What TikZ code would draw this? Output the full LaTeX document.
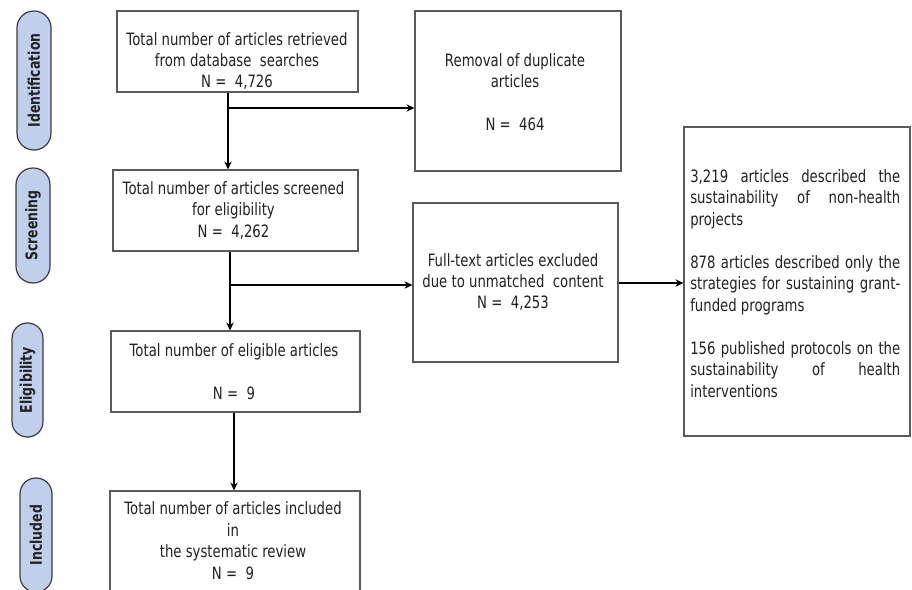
\documentclass[tikz,border=0pt]{standalone}
\usepackage{fontspec}
\setmainfont{DejaVu Sans}[FakeStretch=0.78]
\usetikzlibrary{arrows.meta}
\definecolor{pillfill}{HTML}{BFCFEC}
\definecolor{pillline}{HTML}{3C3C3C}
\definecolor{boxline}{HTML}{5A5A5A}
\definecolor{txtc}{HTML}{222222}
\begin{document}
\begin{tikzpicture}[x=0.75pt,y=-0.75pt,
  font=\fontsize{12.75}{16.1}\selectfont,
  box/.style={draw=boxline, line width=0.8pt, fill=white, inner sep=0pt},
  btxt/.style={text=txtc, align=center, inner sep=0pt},
  pill/.style={draw=pillline, fill=pillfill, line width=0.9pt, rounded corners=#1,
    rotate=90, inner sep=0pt, text=txtc, font=\fontsize{12}{14}\selectfont\bfseries},
  arr/.style={draw=black, line width=1.4pt, -{Stealth[length=6pt,width=5.5pt]}}]
\useasboundingbox (0,0) rectangle (912,589);
\clip (0,0) rectangle (912,589);
\fill[white] (0,0) rectangle (912,589);

% stage pills
\node[pill=12.6pt, minimum width=104.25pt, minimum height=25.5pt] (p1) at (34,80.5) {Identification};
\node[pill=12.6pt, minimum width=86.25pt, minimum height=25.5pt] (p2) at (33,225.5) {Screening};
\node[pill=11.5pt, minimum width=85.5pt, minimum height=23.25pt] (p3) at (27.5,380) {Eligibility};
\node[pill=11.9pt, minimum width=85.5pt, minimum height=24pt] (p4) at (36,535) {Included};

% boxes
\node[box, minimum width=180.75pt, minimum height=60.75pt] (b1) at (237.5,51.5) {};
\node[box, minimum width=154.5pt, minimum height=120pt] (b2) at (518,91) {};
\node[box, minimum width=183.75pt, minimum height=60.75pt] (b3) at (235.5,210.5) {};
\node[box, minimum width=186.75pt, minimum height=60.75pt] (b4) at (235.5,371.5) {};
\node[box, minimum width=153.75pt, minimum height=119.25pt] (b5) at (515.5,282.5) {};
\node[box, minimum width=169.5pt, minimum height=231.75pt] (b6) at (797,281.5) {};
\node[box, minimum width=187.5pt, minimum height=89.25pt] (b7) at (235,550.5) {};

% texts
\node[btxt] (t1) at (237,61) {Total number of articles retrieved\\from database\ \ searches\\N =\ \ 4,726};
\node[btxt] (t2) at (515,92) {Removal of duplicate\\articles\\\mbox{}\\N =\ \ 464};
\node[btxt] (t3) at (233.5,210.5) {Total number of articles screened\\for eligibility\\N =\ \ 4,262};
\node[btxt] (t5) at (513,282) {Full-text articles excluded\\due to unmatched\ \ content\\N =\ \ 4,253};
\node[btxt] (t4) at (234,371.5) {Total number of eligible articles\\\mbox{}\\N =\ \ 9};
\node[btxt] (t7) at (233,540.5) {Total number of articles included\\in\\the systematic review\\N =\ \ 9};
\node[text=txtc, align=left, inner sep=0pt, anchor=west] (t6) at (690,283.5) {%
\makebox[157.5pt][s]{3,219 articles described the}\\
\makebox[157.5pt][s]{sustainability of non-health}\\
projects\\\mbox{}\\
\makebox[157.5pt][s]{878 articles described only the}\\
\makebox[157.5pt][s]{strategies for sustaining grant-}\\
funded\ programs\\\mbox{}\\
\makebox[157.5pt][s]{156 published protocols on the}\\
\makebox[157.5pt][s]{sustainability of health}\\
interventions};

% connectors
\coordinate (j1) at (228,108);
\coordinate (j2) at (230,285);
\coordinate (j3) at (234,283);
\draw[arr] (j1 |- b1.south) -- (j1 |- b3.north);
\draw[arr] (j1) -- (j1 -| b2.west);
\draw[arr] (j2 |- b3.south) -- (j2 |- b4.north);
\draw[arr] (j2) -- (j2 -| b5.west);
\draw[arr] (j3 -| b5.east) -- (j3 -| b6.west);
\draw[arr] (j3 |- b4.south) -- (j3 |- b7.north);
\end{tikzpicture}
\end{document}
